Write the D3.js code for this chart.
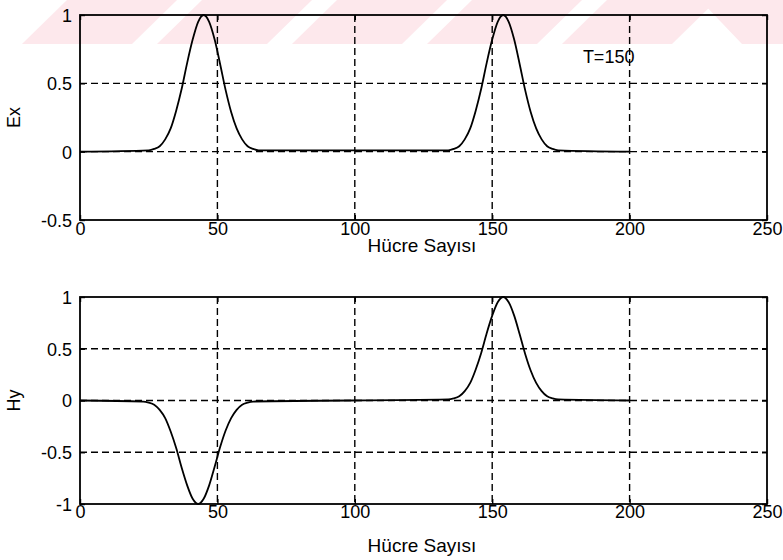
<!DOCTYPE html>
<html>
<head>
<meta charset="utf-8">
<script src="https://cdn.jsdelivr.net/npm/d3@7/dist/d3.min.js"></script>
<style>
  html, body { margin: 0; padding: 0; background: #ffffff; }
  svg { display: block; }
  text { font-family: "Liberation Sans", Arial, sans-serif; fill: #000; }
</style>
</head>
<body>
<svg id="chart" width="783" height="560"></svg>
<script>
// ---- data ----
const xTicks = [0, 50, 100, 150, 200, 250];
const exTicks = [-0.5, 0, 0.5, 1];
const hyTicks = [-1, -0.5, 0, 0.5, 1];
const exTickLabels = ["-0.5", "0", "0.5", "1"];
const hyTickLabels = ["-1", "-0.5", "0", "0.5", "1"];

const exCells = [0, 25, 27, 29, 31, 33, 35, 37, 39, 41, 43, 45, 47, 49, 51, 53, 55, 57, 59, 61, 63, 65,
                 134, 136, 138, 140, 142, 144, 146, 148, 150, 152, 154, 156, 158, 160, 162, 164, 166, 168, 170, 172, 174, 200];
const exValues = [0, 0.01, 0.02, 0.04, 0.09, 0.17, 0.30, 0.46, 0.65, 0.82, 0.95, 1.00, 0.95, 0.82, 0.64, 0.45, 0.29, 0.17, 0.09, 0.04, 0.02, 0.01,
                  0.01, 0.02, 0.04, 0.09, 0.17, 0.30, 0.46, 0.65, 0.82, 0.95, 1.00, 0.95, 0.82, 0.64, 0.45, 0.29, 0.17, 0.09, 0.04, 0.02, 0.01, 0];

const hyCells = [0, 23, 25, 27, 29, 31, 33, 35, 37, 39, 41, 43, 45, 47, 49, 51, 53, 55, 57, 59, 61, 63,
                 134, 136, 138, 140, 142, 144, 146, 148, 150, 152, 154, 156, 158, 160, 162, 164, 166, 168, 170, 172, 174, 200];
const hyValues = [0, -0.01, -0.02, -0.04, -0.09, -0.17, -0.30, -0.46, -0.65, -0.82, -0.95, -1.00, -0.95, -0.82, -0.64, -0.45, -0.29, -0.17, -0.09, -0.04, -0.02, -0.01,
                  0.01, 0.02, 0.04, 0.09, 0.17, 0.30, 0.46, 0.65, 0.82, 0.95, 1.00, 0.95, 0.82, 0.64, 0.45, 0.29, 0.17, 0.09, 0.04, 0.02, 0.01, 0];

const xLabel = "Hücre Sayısı";
const annotation = "T=150";

// ---- drawing ----
const svg = d3.select("#chart");

// faint scan watermark stripes at the top
const wm = svg.append("g").attr("fill", "#fde8ec");
const stripeStarts = [22, 157, 292, 427, 562];
stripeStarts.forEach(s => {
  wm.append("polygon").attr("points", `${s},44 ${s + 110},44 ${s + 155},0 ${s + 45},0`);
});
wm.append("polygon").attr("points", `700,0 783,0 783,44 742,44`);

const left = 80, right = 767;
const x = d3.scaleLinear().domain([0, 250]).range([left, right]);

function panel(top, bottom, yDomain, yTicks, yLabels, cells, values, yName, xLabelBase, tickBase) {
  const y = d3.scaleLinear().domain(yDomain).range([bottom, top]);
  const g = svg.append("g");

  // grid
  const grid = g.append("g").attr("stroke", "#000").attr("stroke-width", 1.4)
    .attr("stroke-dasharray", "7,4").attr("fill", "none");
  xTicks.filter(t => t > 0 && t < 250).forEach(t => {
    grid.append("line").attr("x1", x(t)).attr("x2", x(t)).attr("y1", top).attr("y2", bottom);
  });
  yTicks.filter(t => t > yDomain[0] && t < yDomain[1]).forEach(t => {
    grid.append("line").attr("x1", left).attr("x2", right).attr("y1", y(t)).attr("y2", y(t));
  });

  // data line
  const line = d3.line().x((d, i) => x(cells[i])).y(d => y(d)).curve(d3.curveMonotoneX);
  g.append("path").datum(values).attr("d", line)
    .attr("fill", "none").attr("stroke", "#000").attr("stroke-width", 1.8);

  // axes box
  g.append("rect").attr("x", left).attr("y", top).attr("width", right - left).attr("height", bottom - top)
    .attr("fill", "none").attr("stroke", "#000").attr("stroke-width", 1.8);

  // axes with inward ticks
  const xAxisB = d3.axisBottom(x).tickValues(xTicks).tickSize(-5).tickFormat(d3.format("d"));
  const gx = g.append("g").attr("transform", `translate(0,${bottom})`).call(xAxisB);
  const xAxisT = d3.axisTop(x).tickValues(xTicks).tickSize(-5).tickFormat("");
  const gxt = g.append("g").attr("transform", `translate(0,${top})`).call(xAxisT);
  const yAxisL = d3.axisLeft(y).tickValues(yTicks).tickSize(-5).tickFormat((d, i) => yLabels[i]);
  const gy = g.append("g").attr("transform", `translate(${left},0)`).call(yAxisL);
  const yAxisR = d3.axisRight(y).tickValues(yTicks).tickSize(-5).tickFormat("");
  const gyr = g.append("g").attr("transform", `translate(${right},0)`).call(yAxisR);
  [gx, gxt, gy, gyr].forEach(a => {
    a.select(".domain").remove();
    a.selectAll(".tick line").attr("stroke", "#000").attr("stroke-width", 1.4);
  });
  gx.selectAll(".tick text").attr("y", 0).attr("dy", null)
    .attr("transform", `translate(0,${tickBase - bottom})`)
    .style("font-family", "'Liberation Sans', Arial, sans-serif").style("font-size", "18px").attr("fill", "#000");
  gy.selectAll(".tick text").attr("x", -8).attr("dy", "0.36em")
    .style("font-family", "'Liberation Sans', Arial, sans-serif").style("font-size", "18px").attr("fill", "#000");

  // labels
  g.append("text").attr("x", 422).attr("y", xLabelBase).attr("text-anchor", "middle")
    .style("font-size", "19px").text(xLabel);
  g.append("text").attr("transform", `translate(20,${(top + bottom) / 2}) rotate(-90)`)
    .attr("text-anchor", "middle").style("font-size", "18px").text(yName);
  return y;
}

const yEx = panel(15, 220, [-0.5, 1], exTicks, exTickLabels, exCells, exValues, "Ex", 252, 235);
const yHy = panel(297, 504, [-1, 1], hyTicks, hyTickLabels, hyCells, hyValues, "Hy", 552, 518);

svg.append("text").attr("x", x(183)).attr("y", yEx(0.65)).style("font-size", "18px").text(annotation);
</script>
</body>
</html>
